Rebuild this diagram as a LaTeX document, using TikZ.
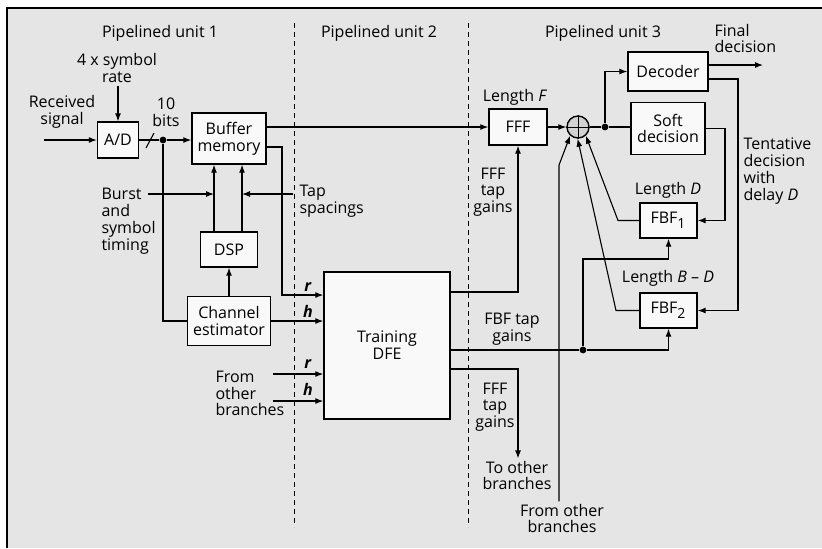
\documentclass[tikz,border=0pt]{standalone}
\usepackage{fontspec}
\setmainfont{Open Sans}
\usetikzlibrary{arrows.meta}
\tikzset{
  blk/.style={draw, line width=0.7pt, fill=gray!5, align=center, inner sep=1pt},
  lbl/.style={align=center, inner sep=1pt},
  jdot/.style={circle, fill, inner sep=0pt, minimum size=3.4pt},
  sep/.style={line width=0.4pt, dash pattern=on 2.5pt off 2pt},
}
\begin{document}
\begin{tikzpicture}[x=0.5pt, y=-0.5pt, >={Latex[length=4pt,width=3pt]}, line width=0.55pt, font=\fontsize{8}{8.4}\selectfont]
\useasboundingbox (0,0) rectangle (822,548);
\fill[gray!20] (7,8) rectangle (822,548);
\draw[line width=1pt] (7,548) -- (7,8) -- (822,8);
\draw[sep] (294,23) -- (294,527);
\draw[sep] (468,23) -- (468,527);

\node[lbl] (u1) at (160,33) {Pipelined unit 1};
\node[lbl] (u2) at (379,33) {Pipelined unit 2};
\node[lbl] (u3) at (603,33) {Pipelined unit 3};

% blocks
\node[blk, minimum width=20.5pt, minimum height=18pt] (ad) at (118,140) {A/D};
\node[blk, minimum width=37pt, minimum height=25.5pt] (buf) at (229,138.5) {Buffer\\memory};
\node[blk, minimum width=28.5pt, minimum height=17.5pt] (dsp) at (229,249.5) {DSP};
\node[blk, minimum width=41.5pt, minimum height=24.5pt] (chest) at (229,321) {Channel\\estimator};
\node[blk, minimum width=63pt, minimum height=73.5pt] (dfe) at (387,345.5) {Training\\DFE};
\node[blk, minimum width=29pt, minimum height=18pt] (fff) at (518,127) {FFF};
\node[draw, circle, line width=0.7pt, fill=gray!35, minimum size=11pt, inner sep=0pt] (add) at (578,127) {};
\draw[line width=0.4pt] (add.north) -- (add.south) (add.west) -- (add.east);
\node[blk, minimum width=40pt, minimum height=19.5pt] (dec) at (668,71.5) {Decoder};
\node[blk, minimum width=37pt, minimum height=26pt] (soft) at (668,128.5) {Soft\\decision};
\node[blk, minimum width=28.5pt, minimum height=17.5pt] (fbfa) at (668.5,220.5) {FBF\textsubscript{\fontsize{7}{7}\selectfont 1}};
\node[blk, minimum width=28.5pt, minimum height=17.5pt] (fbfb) at (668.5,310.5) {FBF\textsubscript{\fontsize{7}{7}\selectfont 2}};

% labels
\node[lbl] (rate) at (117,68) {4 x symbol\\rate};
\node[lbl] (rcv) at (62,112) {Received\\signal};
\node[lbl] (bits) at (166,112) {10\\bits};
\node[lbl, anchor=west, align=left] (burst) at (99,221) {Burst\\and\\symbol\\timing};
\node[lbl, anchor=west, align=left] (tap) at (297,201.5) {Tap\\spacings};
\node[lbl] (ra) at (308,287) {\textbf{\textit{r}}};
\node[lbl] (ha) at (308,311) {\textbf{\textit{h}}};
\node[lbl] (rb) at (308,364) {\textbf{\textit{r}}};
\node[lbl] (hb) at (308,389) {\textbf{\textit{h}}};
\node[lbl, anchor=west, align=left] (from1) at (213,393.5) {From\\other\\branches};
\node[lbl] (lenF) at (515,97) {Length \textit{F}};
\node[lbl] (fffg) at (493,192) {FFF\\tap\\gains};
\node[lbl] (fbfg) at (512,329) {FBF tap\\gains};
\node[lbl] (fffg2) at (495,407) {FFF\\tap\\gains};
\node[lbl] (toother) at (517,475.5) {To other\\branches};
\node[lbl] (frob) at (562,518.5) {From other\\branches};
\node[lbl, anchor=west, align=left] (final) at (712,38.5) {Final\\decision};
\node[lbl, anchor=west, align=left] (tent) at (741,171) {Tentative\\decision\\with\\delay \textit{D}};
\node[lbl] (lenD) at (668,190) {Length \textit{D}};
\node[lbl] (lenBD) at (668,278) {Length \textit{B} -- \textit{D}};

% junctions
\coordinate (rin) at (44,140);
\coordinate (rtop) at (118,86);
\node[jdot] (ja) at (163,140) {};
\coordinate (bt) at (148,194);
\coordinate (ts) at (293,194);
\coordinate (dl) at ([xshift=-7.5pt]dsp.north);
\coordinate (dr) at ([xshift=6.5pt]dsp.north);
\coordinate (rr) at (282,295);
\coordinate (orr) at (273,374);
\coordinate (ohh) at (273,401);
\coordinate (fg) at (518,292);
\node[jdot] (jb) at (583,350) {};
\coordinate (jb2) at (583,259);
\coordinate (og) at (518,369);
\coordinate (fo) at (559,165);
\coordinate (f2) at (616,310.5);
\coordinate (f1) at (618,220.5);
\node[jdot] (jc) at (605,127) {};
\coordinate (fd) at (763,65);
\coordinate (tb) at (738,310.5);
\coordinate (ta) at (725,220.5);

% connectors
\draw[->] (rin) -- (ad.west);
\draw[->] (rtop) -- (ad.north);
\draw (ad.east) -- (ja);
\draw[->] (ja) -- (buf.west |- ja);
\draw (146,148) -- (154,133);
\draw (ja) |- (chest.west);
\draw[->] (chest.north) -- (dsp.south);
\draw[->] (dl) -- (dl |- buf.south);
\draw[->] (dr) -- (dr |- buf.south);
\draw[->] (bt) -- (bt -| dl);
\draw[->] (ts) -- (ts -| dr);
\draw[->] (buf.east |- fff) -- (fff.west);
\draw[->] ([yshift=-4.25pt]buf.east) -| (rr) -- (rr -| dfe.west);
\draw[->] (chest.east) -- (chest.east -| dfe.west);
\draw[->] (orr) -- (orr -| dfe.west);
\draw[->] (ohh) -- (ohh -| dfe.west);
\draw[->] (dfe.east |- fg) -- (fg) -- (fff.south);
\draw (dfe.east |- jb) -- (jb);
\draw[->] (jb) -| (fbfb.south);
\draw[->] (jb) -- (jb2) -| (fbfa.south);
\draw[->] (dfe.east |- og) -- (og) -- (og |- toother.north);
\draw[->] (frob.north -| fo) -- (fo) -- (add.228);
\draw[->] (fbfb.west) -- (f2) -- (add.268);
\draw[->] (fbfa.west) -- (f1) -- (add.312);
\draw[->] (fff.east) -- (add.west);
\draw (add.east) -- (jc) -- (soft.west |- jc);
\draw[->] (jc) |- (dec.west);
\draw[->] ([yshift=3.25pt]dec.east) -- (fd);
\draw[->] ([yshift=-3.75pt]dec.east) -| (tb) -- (fbfb.east);
\draw[->] (soft.east) -| (ta) -- (fbfa.east);
\end{tikzpicture}
\end{document}
